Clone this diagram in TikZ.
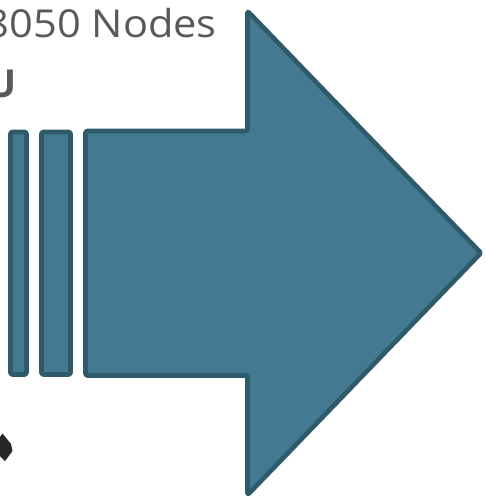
\documentclass[tikz,border=0pt]{standalone}
\usepackage{fontspec}
\setmainfont{Open Sans}
\definecolor{arrowfill}{RGB}{67,122,145}
\definecolor{arrowline}{RGB}{46,90,106}
\definecolor{labelgray}{RGB}{88,89,91}
\begin{document}
\begin{tikzpicture}[x=1pt,y=-1pt,
  block/.style={fill=arrowfill,draw=arrowline,line width=4.6pt,line join=round,rounded corners=1.5pt},
  label/.style={text=labelgray,font=\fontsize{38.5}{46}\selectfont,inner sep=0pt,anchor=base east}]
\useasboundingbox (0,0) rectangle (485,500);
\clip (0,0) rectangle (485,500);
% heading text, running off the left edge
\node[label,xscale=1.08] (title) at (217,38) {8050 Nodes};
\node[label,font=\fontsize{38.5}{46}\selectfont\bfseries] (sub) at (17,98) {U};
% thin bars in front of the arrow
\draw[block] (10.5,132) rectangle (26.5,374.5);
\draw[block] (41.5,132) rectangle (70.5,374.5);
% block arrow
\draw[block] (85.5,131) -- (247.5,131) -- (247.5,11) -- (481,253)
  -- (247.5,495) -- (247.5,375.5) -- (85.5,375.5) -- cycle;
% dark tip at the lower left
\fill[black!85] (0,437) -- (2.5,433.5) -- (11,444) -- (12.5,451) -- (5,461) -- (0,456) -- cycle;
\end{tikzpicture}
\end{document}
